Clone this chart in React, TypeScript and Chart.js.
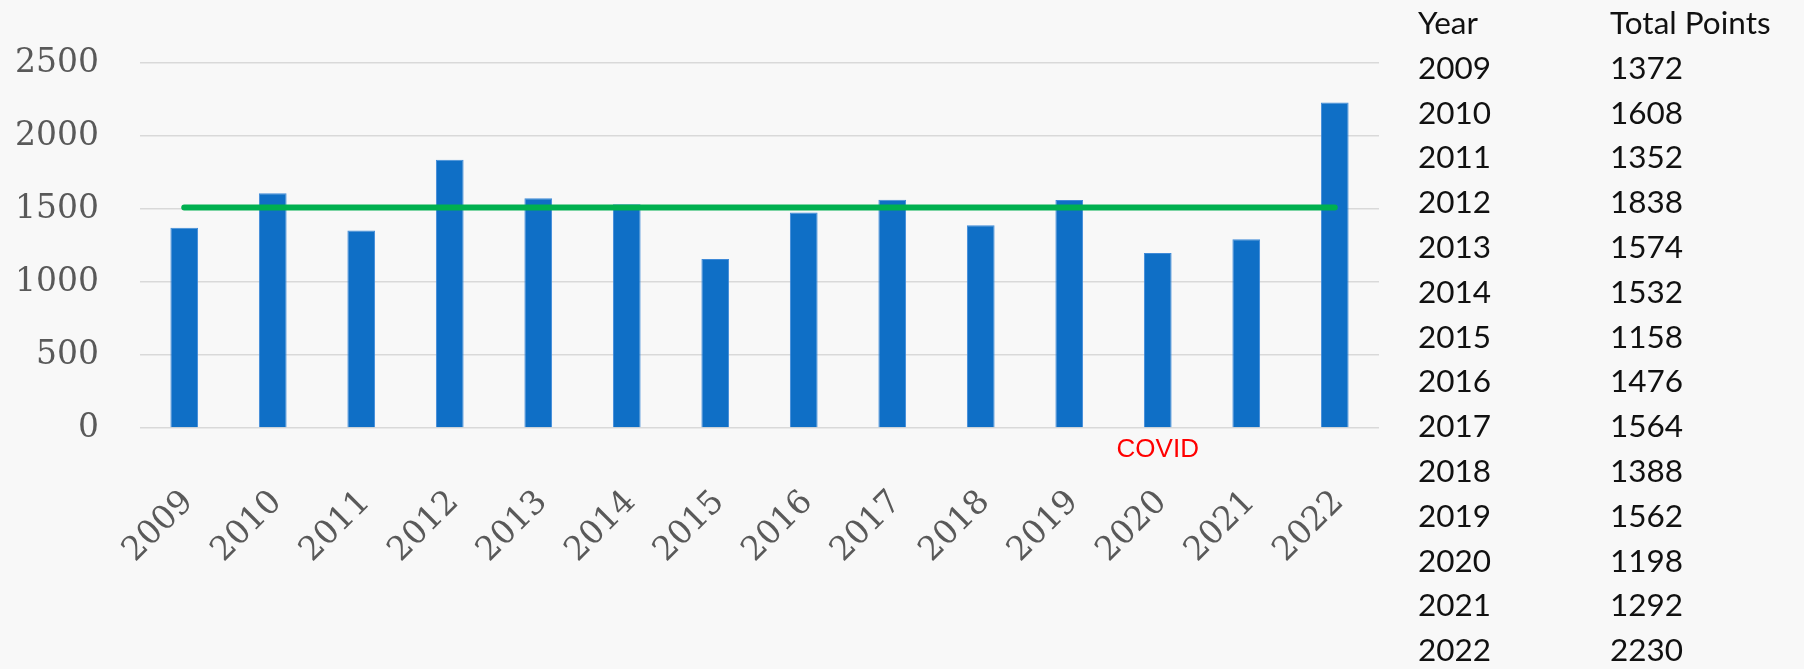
import React, { useEffect, useRef } from "react";
import { Chart, registerables } from "chart.js";

Chart.register(...registerables);

const years = ["2009", "2010", "2011", "2012", "2013", "2014", "2015", "2016", "2017", "2018", "2019", "2020", "2021", "2022"];
const totalPoints = [1372, 1608, 1352, 1838, 1574, 1532, 1158, 1476, 1564, 1388, 1562, 1198, 1292, 2230];
const averageLine = [1510, 1510, 1510, 1510, 1510, 1510, 1510, 1510, 1510, 1510, 1510, 1510, 1510, 1510];
const yTickValues = [0, 500, 1000, 1500, 2000, 2500];
const tableHeader = ["Year", "Total Points"];
const covidLabel = "COVID";
const covidYear = "2020";

const W = 1804;
const H = 669;

const covidPlugin = {
  id: "covidNote",
  afterDatasetsDraw(chart: any) {
    const { ctx, scales } = chart;
    const x = scales.x.getPixelForValue(years.indexOf(covidYear));
    const y = scales.y.getPixelForValue(0) + 29;
    ctx.save();
    ctx.font = '26px "Liberation Sans", Arial, sans-serif';
    ctx.fillStyle = "#ff0000";
    ctx.textAlign = "center";
    ctx.textBaseline = "alphabetic";
    ctx.fillText(covidLabel, x, y);
    ctx.restore();
  },
};

function ChartCanvas() {
  const ref = useRef<HTMLCanvasElement | null>(null);
  useEffect(() => {
    if (!ref.current) return;
    const tickFont = { family: '"DejaVu Serif", serif', size: 33 };
    const chart = new Chart(ref.current, {
      type: "bar",
      data: {
        labels: years,
        datasets: [
          {
            type: "line",
            label: "Average",
            data: averageLine,
            borderColor: "#00b050",
            borderWidth: 6,
            borderCapStyle: "round",
            pointRadius: 0,
            fill: false,
            order: 0,
          } as any,
          {
            type: "bar",
            label: "Total Points",
            data: totalPoints,
            backgroundColor: "#0f6fc6",
            borderColor: "#3f8ad8",
            borderWidth: 1,
            categoryPercentage: 1,
            barPercentage: 0.313,
            order: 1,
          },
        ],
      },
      options: {
        responsive: false,
        animation: false,
        layout: { padding: { left: 0, top: 63, right: W - 1379, bottom: 0 } },
        plugins: { legend: { display: false }, tooltip: { enabled: false } },
        scales: {
          x: {
            grid: { display: false },
            border: { display: false },
            ticks: {
              autoSkip: false,
              minRotation: 45,
              maxRotation: 45,
              padding: 47,
              labelOffset: 4,
              color: "#595959",
              font: tickFont,
            },
            afterFit: (s: any) => {
              s.height = H - 428;
            },
          },
          y: {
            min: 0,
            max: 2500,
            afterBuildTicks: (s: any) => {
              s.ticks = yTickValues.map((v) => ({ value: v }));
            },
            grid: { color: "#d9d9d9", lineWidth: 1.6, drawTicks: false },
            border: { display: false },
            ticks: {
              padding: 41,
              color: "#595959",
              font: tickFont,
              callback: (v: any) => String(v),
            },
            afterFit: (s: any) => {
              s.width = 140;
            },
          },
        },
      },
      plugins: [covidPlugin],
    });
    return () => chart.destroy();
  }, []);
  return <canvas ref={ref} width={W} height={H} style={{ position: "absolute", left: 0, top: 0, width: W, height: H }} />;
}

export default function App() {
  const colStyle: React.CSSProperties = {
    position: "absolute",
    top: 0,
    fontFamily: 'Lato, "Noto Sans", sans-serif',
    fontSize: "31.5px",
    lineHeight: "44.8px",
    color: "#111",
    whiteSpace: "pre",
  };
  return (
    <div style={{ position: "fixed", left: 0, top: 0, width: W, height: H, background: "#f8f8f8", overflow: "hidden" }}>
      <ChartCanvas />
      <div style={{ ...colStyle, left: 1418 }}>
        <div>{tableHeader[0]}</div>
        {years.map((y) => (
          <div key={y}>{y}</div>
        ))}
      </div>
      <div style={{ ...colStyle, left: 1610 }}>
        <div>{tableHeader[1]}</div>
        {totalPoints.map((v, i) => (
          <div key={i}>{v}</div>
        ))}
      </div>
    </div>
  );
}
